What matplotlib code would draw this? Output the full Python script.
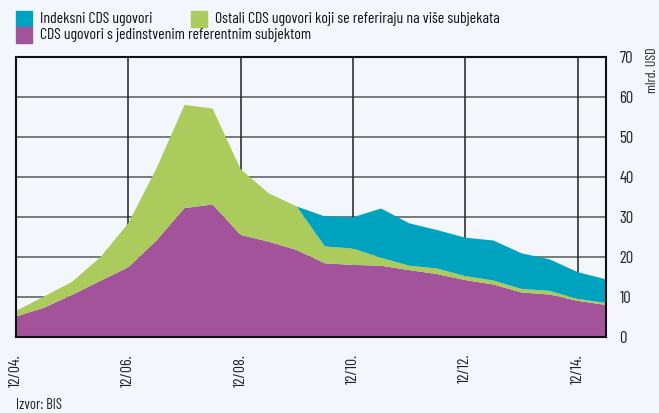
import matplotlib
matplotlib.use("Agg")
import matplotlib.pyplot as plt
from matplotlib.patches import Rectangle
from matplotlib import font_manager
import numpy as np

# pick a condensed font (fallback chain)
_files = [f.fname for f in font_manager.fontManager.ttflist]
FP = font_manager.FontProperties(family='DejaVu Sans')
for key in ['BarlowCondensed-Regular', 'ArchivoNarrow', 'BarlowSemiCondensed-Regular']:
    hits = [fn for fn in _files if key in fn.split('/')[-1]]
    if hits:
        FP = font_manager.FontProperties(fname=sorted(hits)[0])
        break

periods = ["12/04", "06/05", "12/05", "06/06", "12/06", "06/07", "12/07", "06/08",
           "12/08", "06/09", "12/09", "06/10", "12/10", "06/11", "12/11", "06/12",
           "12/12", "06/13", "12/13", "06/14", "12/14", "06/15"]
single_name = [5.2, 7.4, 10.6, 14.1, 17.5, 24.2, 32.3, 33.2, 25.6, 23.9, 21.8,
               18.5, 18.1, 17.9, 16.8, 15.8, 14.3, 13.2, 11.2, 10.7, 9.1, 8.1]
other_multi = [1.4, 2.8, 3.3, 5.9, 11.0, 18.0, 25.8, 24.0, 16.4, 12.1, 10.9,
               4.2, 4.1, 2.0, 1.1, 1.4, 1.0, 1.0, 0.9, 0.9, 0.5, 0.5]
index_cds = [0, 0, 0, 0, 0, 0, 0, 0, 0, 0, 0,
             7.5, 7.8, 12.3, 10.6, 9.6, 9.6, 10.0, 8.9, 7.9, 6.7, 5.9]
tick_labels = ["12/04.", "12/06.", "12/08.", "12/10.", "12/12.", "12/14."]
legend_labels = ["Indeksni CDS ugovori", "Ostali CDS ugovori koji se referiraju na više subjekata",
                 "CDS ugovori s jedinstvenim referentnim subjektom"]

BG = "#f3f6fb"
C_BLUE = "#00a3bf"
C_GREEN = "#abcb5d"
C_PURPLE = "#a35399"

def fp(size):
    p = FP.copy()
    p.set_size(size)
    return p

fig = plt.figure(figsize=(6.59, 4.13), dpi=100, facecolor=BG)
ax = fig.add_axes([16/659, 1-337.3/413, (605.7-16)/659, (337.3-57.3)/413])
ax.set_facecolor(BG)

x = np.arange(len(periods))
ax.stackplot(x, single_name, other_multi, index_cds,
             colors=[C_PURPLE, C_GREEN, C_BLUE], linewidth=0, zorder=3)

ax.set_xlim(0, len(periods) - 1)
ax.set_ylim(0, 70)
ax.set_yticks(np.arange(0, 71, 10))
ax.yaxis.tick_right()
ax.tick_params(axis='y', length=0, pad=10)
for lab in ax.get_yticklabels():
    lab.set_fontproperties(fp(12))
    lab.set_color("#222222")
tick_pos = [periods.index(t.rstrip('.')) for t in tick_labels]
ax.set_xticks(tick_pos)
ax.set_xticklabels(tick_labels, rotation=90, color="#222222")
ax.tick_params(axis='x', length=0, pad=12)
for lab in ax.get_xticklabels():
    lab.set_va('top')
    lab.set_fontproperties(fp(11.5))

for yv in range(10, 70, 10):
    ax.axhline(yv, color="#6f6f6f", lw=1.3, zorder=1)
for xv in tick_pos[1:]:
    ax.axvline(xv, color="#222222", lw=1.1, zorder=1)
for s in ax.spines.values():
    s.set_color("#111111")
    s.set_linewidth(1.5)
    s.set_zorder(5)

fig.text(653/659, 1-47/413, "mlrd. USD", rotation=90, ha='center', va='top', fontproperties=fp(10), color="#222222")

def leg(x0, y0, color, text):
    fig.patches.append(Rectangle((x0/659, 1-(y0+16)/413), 16/659, 16/413,
                                 transform=fig.transFigure, color=color, figure=fig))
    fig.text((x0+24)/659, 1-(y0+8)/413, text, ha='left', va='center', fontproperties=fp(11.3), color="#111111")

leg(16, 11, C_BLUE, legend_labels[0])
leg(191, 11, C_GREEN, legend_labels[1])
leg(16, 27, C_PURPLE, legend_labels[2])

fig.text(16/659, 1-405/413, "Izvor: BIS", ha='left', va='center', fontproperties=fp(10.5), color="#222222")

fig.savefig("out.png", dpi=100, facecolor=BG)
